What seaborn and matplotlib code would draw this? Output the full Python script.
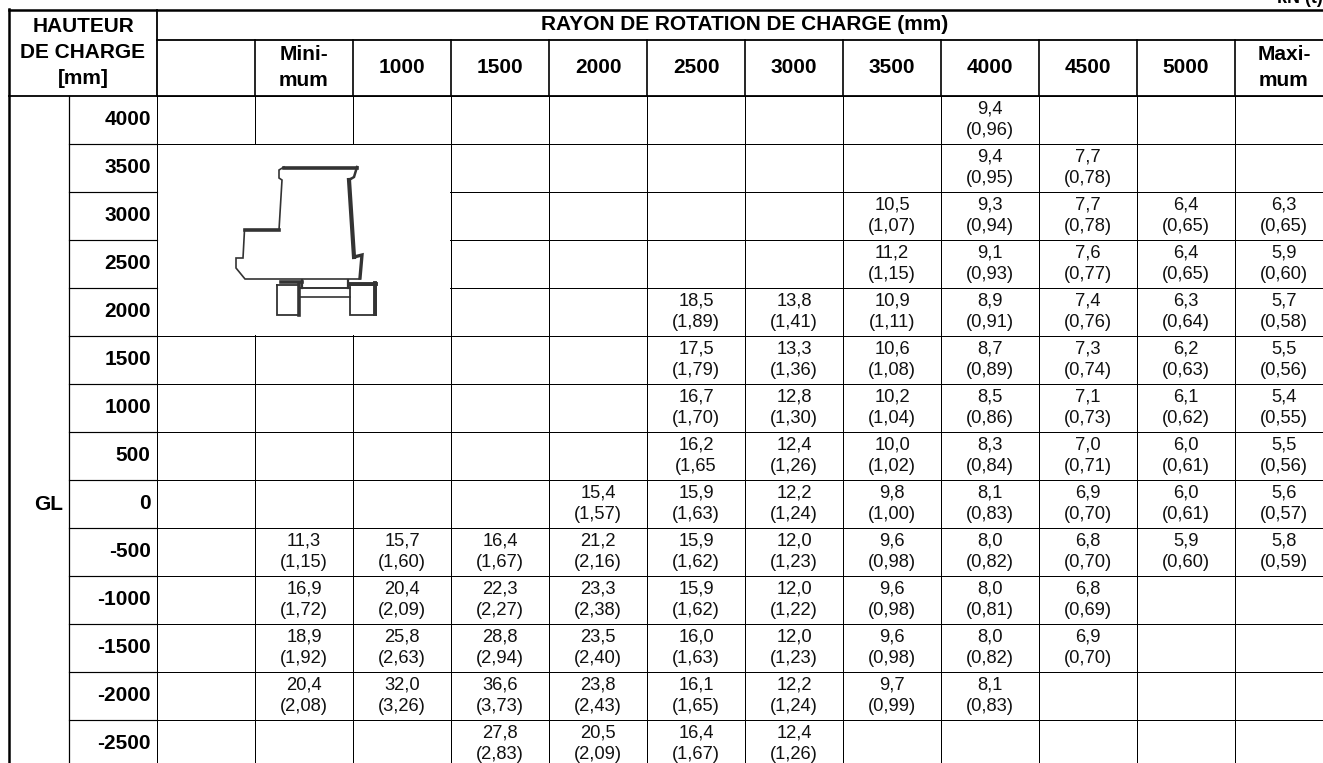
import numpy as np
import pandas as pd
import matplotlib
matplotlib.use("Agg")
import matplotlib.pyplot as plt
from matplotlib.colors import ListedColormap
from matplotlib.patches import Rectangle
import seaborn as sns

heights = ["4000", "3500", "3000", "2500", "2000", "1500", "1000", "500", "0",
           "-500", "-1000", "-1500", "-2000", "-2500"]
radii = ["", "Mini-\nmum", "1000", "1500", "2000", "2500", "3000", "3500", "4000",
         "4500", "5000", "Maxi-\nmum"]

# load in kN, one list per radius, top row to bottom row
kn_blank = [None] * 14
kn_min = [None] * 9 + [11.3, 16.9, 18.9, 20.4, None]
kn_1000 = [None] * 9 + [15.7, 20.4, 25.8, 32.0, None]
kn_1500 = [None] * 9 + [16.4, 22.3, 28.8, 36.6, 27.8]
kn_2000 = [None] * 8 + [15.4, 21.2, 23.3, 23.5, 23.8, 20.5]
kn_2500 = [None] * 4 + [18.5, 17.5, 16.7, 16.2, 15.9, 15.9, 15.9, 16.0, 16.1, 16.4]
kn_3000 = [None] * 4 + [13.8, 13.3, 12.8, 12.4, 12.2, 12.0, 12.0, 12.0, 12.2, 12.4]
kn_3500 = [None] * 2 + [10.5, 11.2, 10.9, 10.6, 10.2, 10.0, 9.8, 9.6, 9.6, 9.6, 9.7, None]
kn_4000 = [9.4, 9.4, 9.3, 9.1, 8.9, 8.7, 8.5, 8.3, 8.1, 8.0, 8.0, 8.0, 8.1, None]
kn_4500 = [None, 7.7, 7.7, 7.6, 7.4, 7.3, 7.1, 7.0, 6.9, 6.8, 6.8, 6.9, None, None]
kn_5000 = [None] * 2 + [6.4, 6.4, 6.3, 6.2, 6.1, 6.0, 6.0, 5.9] + [None] * 4
kn_max = [None] * 2 + [6.3, 5.9, 5.7, 5.5, 5.4, 5.5, 5.6, 5.8] + [None] * 4

# same cells in tonnes
t_blank = [None] * 14
t_min = [None] * 9 + [1.15, 1.72, 1.92, 2.08, None]
t_1000 = [None] * 9 + [1.60, 2.09, 2.63, 3.26, None]
t_1500 = [None] * 9 + [1.67, 2.27, 2.94, 3.73, 2.83]
t_2000 = [None] * 8 + [1.57, 2.16, 2.38, 2.40, 2.43, 2.09]
t_2500 = [None] * 4 + [1.89, 1.79, 1.70, 1.65, 1.63, 1.62, 1.62, 1.63, 1.65, 1.67]
t_3000 = [None] * 4 + [1.41, 1.36, 1.30, 1.26, 1.24, 1.23, 1.22, 1.23, 1.24, 1.26]
t_3500 = [None] * 2 + [1.07, 1.15, 1.11, 1.08, 1.04, 1.02, 1.00, 0.98, 0.98, 0.98, 0.99, None]
t_4000 = [0.96, 0.95, 0.94, 0.93, 0.91, 0.89, 0.86, 0.84, 0.83, 0.82, 0.81, 0.82, 0.83, None]
t_4500 = [None, 0.78, 0.78, 0.77, 0.76, 0.74, 0.73, 0.71, 0.70, 0.70, 0.69, 0.70, None, None]
t_5000 = [None] * 2 + [0.65, 0.65, 0.64, 0.63, 0.62, 0.61, 0.61, 0.60] + [None] * 4
t_max = [None] * 2 + [0.65, 0.60, 0.58, 0.56, 0.55, 0.56, 0.57, 0.59] + [None] * 4

kn_cols = [kn_blank, kn_min, kn_1000, kn_1500, kn_2000, kn_2500, kn_3000, kn_3500,
           kn_4000, kn_4500, kn_5000, kn_max]
t_cols = [t_blank, t_min, t_1000, t_1500, t_2000, t_2500, t_3000, t_3500,
          t_4000, t_4500, t_5000, t_max]

kn = pd.DataFrame(np.array(kn_cols, dtype=float).T, index=heights, columns=radii)

# cell labels with decimal commas
labels = []
for r in range(len(heights)):
    row = []
    for c in range(len(radii)):
        if kn_cols[c][r] is None:
            row.append("")
        else:
            a = f"{kn_cols[c][r]:.1f}".replace(".", ",")
            b = f"{t_cols[c][r]:.2f}".replace(".", ",")
            row.append(f"{a}\n({b})")
    labels.append(row)
labels = np.array(labels, dtype=object)
# the source leaves this bracket open
labels[heights.index("500"), radii.index("2500")] = "16,2\n(1,65"

W, H = 1323, 763
COL = 98
ROW = 48
X0, Y0 = 157, 96
BOLD = 15.0

plt.rcParams["font.family"] = ["Liberation Sans", "DejaVu Sans"]
fig = plt.figure(figsize=(W / 100, H / 100), dpi=100)
ax = fig.add_axes([X0 / W, 1 - (Y0 + ROW * 14) / H, COL * 12 / W, ROW * 14 / H])

sns.heatmap(kn.fillna(0), ax=ax, cmap=ListedColormap(["white"]), cbar=False,
            annot=labels, fmt="", linewidths=0.7, linecolor="black",
            annot_kws={"fontsize": 13.2, "color": "#111111", "linespacing": 1.37})

ax.xaxis.tick_top()
ax.tick_params(axis="both", length=0)
ax.tick_params(axis="x", pad=20.5, rotation=0)
ax.tick_params(axis="y", pad=4.5, rotation=0)
for lab in ax.get_xticklabels():
    lab.set_fontsize(BOLD)
    lab.set_fontweight("bold")
    lab.set_va("center")
    lab.set_linespacing(1.5)
for lab in ax.get_yticklabels():
    lab.set_fontsize(BOLD)
    lab.set_fontweight("bold")
ax.set_xlabel("")
ax.set_ylabel("")

# overlay in pixel coordinates for the merged cells and the header frame
ov = fig.add_axes([0, 0, 1, 1], facecolor="none")
ov.set_xlim(0, W)
ov.set_ylim(H, 0)
ov.axis("off")

ov.add_patch(Rectangle((X0 + 0.6, Y0 + ROW + 0.6), COL * 3 - 1.2, ROW * 4 - 1.2,
                       facecolor="white", edgecolor="none"))

bottom = Y0 + ROW * 14
ov.plot([9, 9], [9, bottom], color="black", lw=1.8)
ov.plot([9, W], [10, 10], color="black", lw=1.8)
ov.plot([9, W], [Y0, Y0], color="black", lw=1.3)
ov.plot([X0, W], [40, 40], color="black", lw=1.3)
ov.plot([X0, X0], [10, Y0], color="black", lw=1.3)
for k in range(1, 12):
    ov.plot([X0 + COL * k] * 2, [40, Y0], color="black", lw=1.2)
ov.plot([69, 69], [Y0, bottom], color="black", lw=0.9)
for k in range(1, 14):
    ov.plot([69, X0], [Y0 + ROW * k] * 2, color="black", lw=0.85)

ov.text(83, 52.5, "HAUTEUR\nDE CHARGE\n[mm]", ha="center", va="center",
        fontsize=BOLD, fontweight="bold", linespacing=1.48)
ov.text(745, 24, "RAYON DE ROTATION DE CHARGE (mm)", ha="center", va="center",
        fontsize=BOLD, fontweight="bold")
ov.text(63, Y0 + ROW * 8.5, "GL", ha="right", va="center", fontsize=BOLD, fontweight="bold")
ov.text(1323, 3, "kN (t)", ha="right", va="baseline", fontsize=13, fontweight="bold")

# machine pictogram
ink = "#333333"
def pic(xs, ys, lw):
    ov.plot(xs, ys, color=ink, lw=lw, solid_joinstyle="miter")

pic([284, 357], [167.5, 167.5], 2.6)          # roof
pic([357, 354, 349], [167, 177, 180], 1.8)
pic([349, 354], [180, 257], 3.0)              # right wall
pic([354, 362, 360], [257, 255, 278], 2.4)
pic([360, 245, 236, 236, 243, 244.5, 279, 282, 279, 279, 284], [279, 279, 268, 258, 258, 230, 230, 180, 178, 170, 167], 1.2)
pic([244.5, 279], [230, 230], 2.6)            # step
pic([277, 299, 299, 277, 277], [285, 285, 315, 315, 285], 1.3)   # left wheel
pic([299, 299], [283, 315], 2.6)
pic([350, 376, 376, 350, 350], [285, 285, 315, 315, 285], 1.3)   # right wheel
pic([350, 376], [284, 284], 2.8)
pic([375, 375], [283, 314], 2.8)
pic([281, 302], [282, 282], 2.6)
pic([299, 350], [288, 288], 1.4)
pic([299, 350], [297, 297], 1.2)
pic([302, 302], [280, 288], 1.6)
pic([348, 348], [280, 288], 1.6)

fig.savefig("out.png", dpi=100)
